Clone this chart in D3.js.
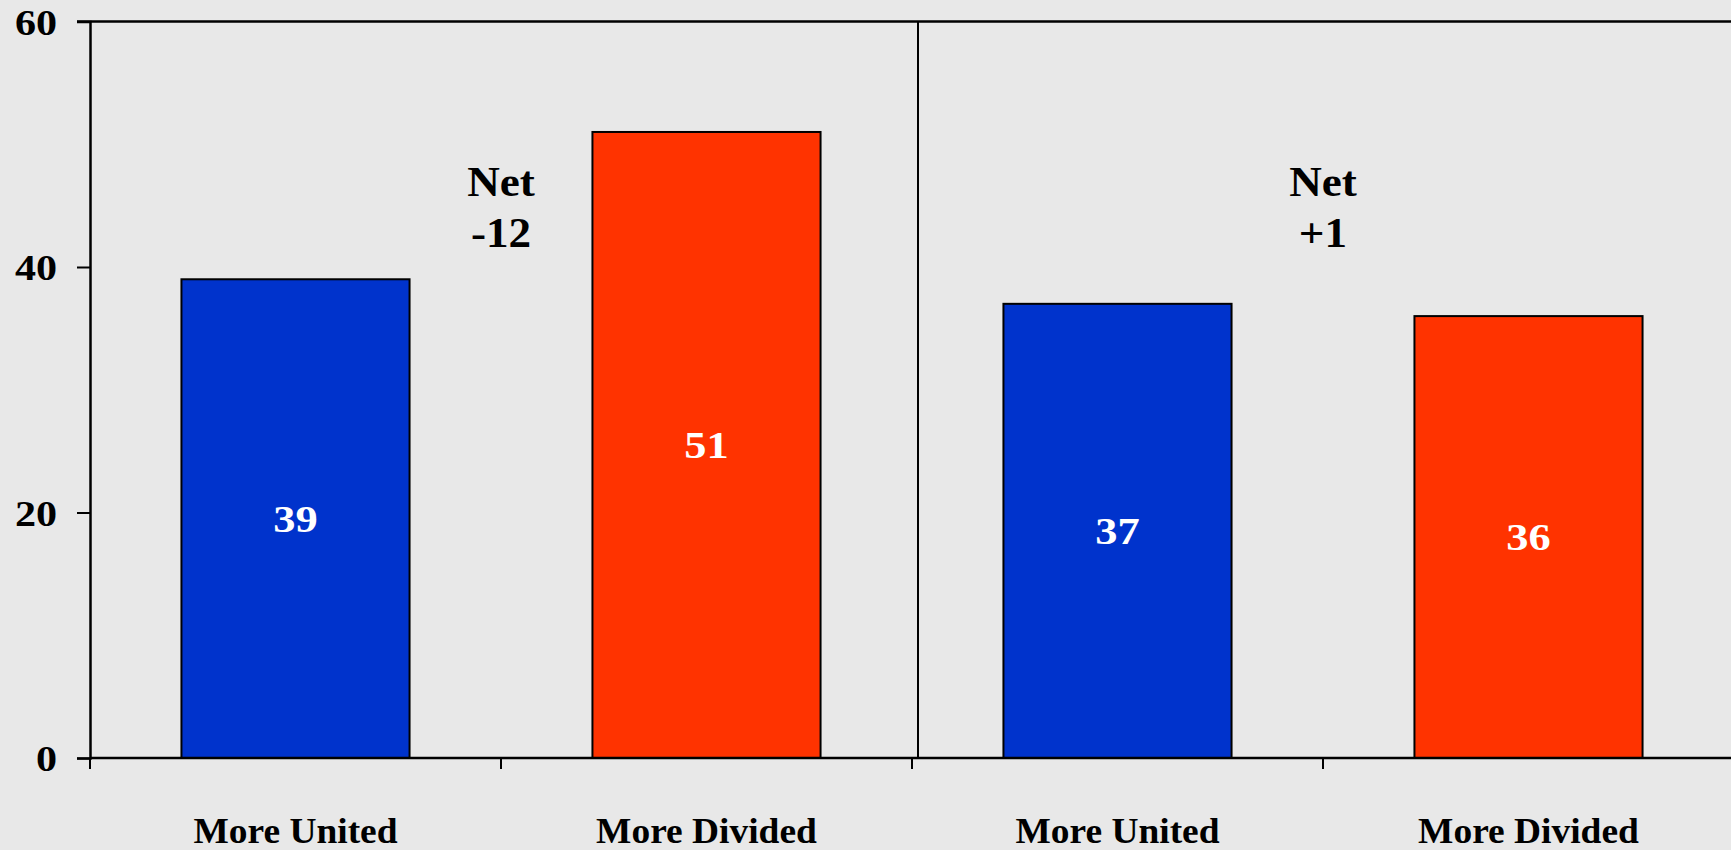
<!DOCTYPE html>
<html>
<head>
<meta charset="utf-8">
<script src="https://cdn.jsdelivr.net/npm/d3@7"></script>
<style>
  html, body { margin: 0; padding: 0; background: #e8e8e8; }
  svg { display: block; }
  text { font-family: "Liberation Serif", "Times New Roman", serif; font-weight: bold; }
</style>
</head>
<body>
<svg id="chart" width="1731" height="850"></svg>
<script>
// ---- data ----
const categories = ["More United", "More Divided", "More United", "More Divided"];
const values = [39, 51, 37, 36];
const barColors = ["#0033cc", "#ff3300", "#0033cc", "#ff3300"];
const yTicks = [0, 20, 40, 60];
const netLabels = [["Net", "-12"], ["Net", "+1"]];

(function () {
// ---- layout ----
const W = 1731, H = 850;
const mLeft = 90, mRight = 1734, mTop = 21.5, mBottom = 758;

const svg = d3.select("#chart");
svg.append("rect").attr("width", W).attr("height", H).attr("fill", "#e8e8e8");

const x = d3.scaleBand().domain(d3.range(categories.length)).range([mLeft, mRight]).padding(0);
const y = d3.scaleLinear().domain([0, 60]).range([mBottom, mTop]);
const barW = x.bandwidth() * 0.555;

// top border
svg.append("line")
  .attr("x1", mLeft - 13).attr("x2", W).attr("y1", y(60)).attr("y2", y(60))
  .attr("stroke", "#000").attr("stroke-width", 2.5);

// group divider
svg.append("line")
  .attr("x1", x(2) + 6).attr("x2", x(2) + 6).attr("y1", y(60)).attr("y2", y(0))
  .attr("stroke", "#000").attr("stroke-width", 2);

// bars
svg.selectAll("rect.bar").data(values).enter().append("rect")
  .attr("class", "bar")
  .attr("x", (d, i) => x(i) + (x.bandwidth() - barW) / 2)
  .attr("width", barW)
  .attr("y", d => y(d))
  .attr("height", d => y(0) - y(d))
  .attr("fill", (d, i) => barColors[i])
  .attr("stroke", "#000").attr("stroke-width", 2);

// value labels
svg.selectAll("text.val").data(values).enter().append("text")
  .attr("class", "val")
  .attr("transform", (d, i) => `translate(${x(i) + x.bandwidth() / 2},${(y(d) + y(0)) / 2 + 13}) scale(1.17,1)`)
  .attr("text-anchor", "middle")
  .attr("fill", "#fff")
  .attr("font-size", 38)
  .text(d => d);

// y axis
const yAxis = d3.axisLeft(y).tickValues(yTicks).tickSize(13).tickPadding(0);
const gy = svg.append("g").attr("transform", `translate(${mLeft},0)`).call(yAxis);
gy.select(".domain").attr("stroke", "#000").attr("stroke-width", 2.5);
gy.selectAll(".tick line").attr("stroke", "#000").attr("stroke-width", 2);
gy.selectAll(".tick text")
  .attr("x", null)
  .attr("transform", "translate(-33,0) scale(1.17,1)")
  .attr("font-size", 36).attr("fill", "#000")
  .attr("font-family", "Liberation Serif, serif").attr("font-weight", "bold")
  .attr("dy", "0.36em");

// x axis (boundary ticks)
const boundaries = d3.range(categories.length + 1).map(i => mLeft + i * x.step());
svg.append("line")
  .attr("x1", mLeft).attr("x2", W).attr("y1", y(0)).attr("y2", y(0))
  .attr("stroke", "#000").attr("stroke-width", 2.5);
svg.selectAll("line.xtick").data(boundaries).enter().append("line")
  .attr("class", "xtick")
  .attr("x1", d => d).attr("x2", d => d)
  .attr("y1", y(0)).attr("y2", y(0) + 11)
  .attr("stroke", "#000").attr("stroke-width", 2);

// category labels
svg.selectAll("text.cat").data(categories).enter().append("text")
  .attr("class", "cat")
  .attr("transform", (d, i) => `translate(${x(i) + x.bandwidth() / 2},${y(0) + 85}) scale(1.04,1)`)
  .attr("text-anchor", "middle")
  .attr("fill", "#000")
  .attr("font-size", 36)
  .text(d => d);

// net annotations
netLabels.forEach((lines, g) => {
  const cx = x(g * 2 + 1);
  const t = svg.append("text")
    .attr("transform", `translate(${cx},${y(60) + 174}) scale(1.05,1)`)
    .attr("text-anchor", "middle").attr("fill", "#000").attr("font-size", 43);
  lines.forEach((ln, k) => {
    t.append("tspan").attr("x", 0).attr("dy", k === 0 ? 0 : 52).text(ln);
  });
});
})();
</script>
</body>
</html>
